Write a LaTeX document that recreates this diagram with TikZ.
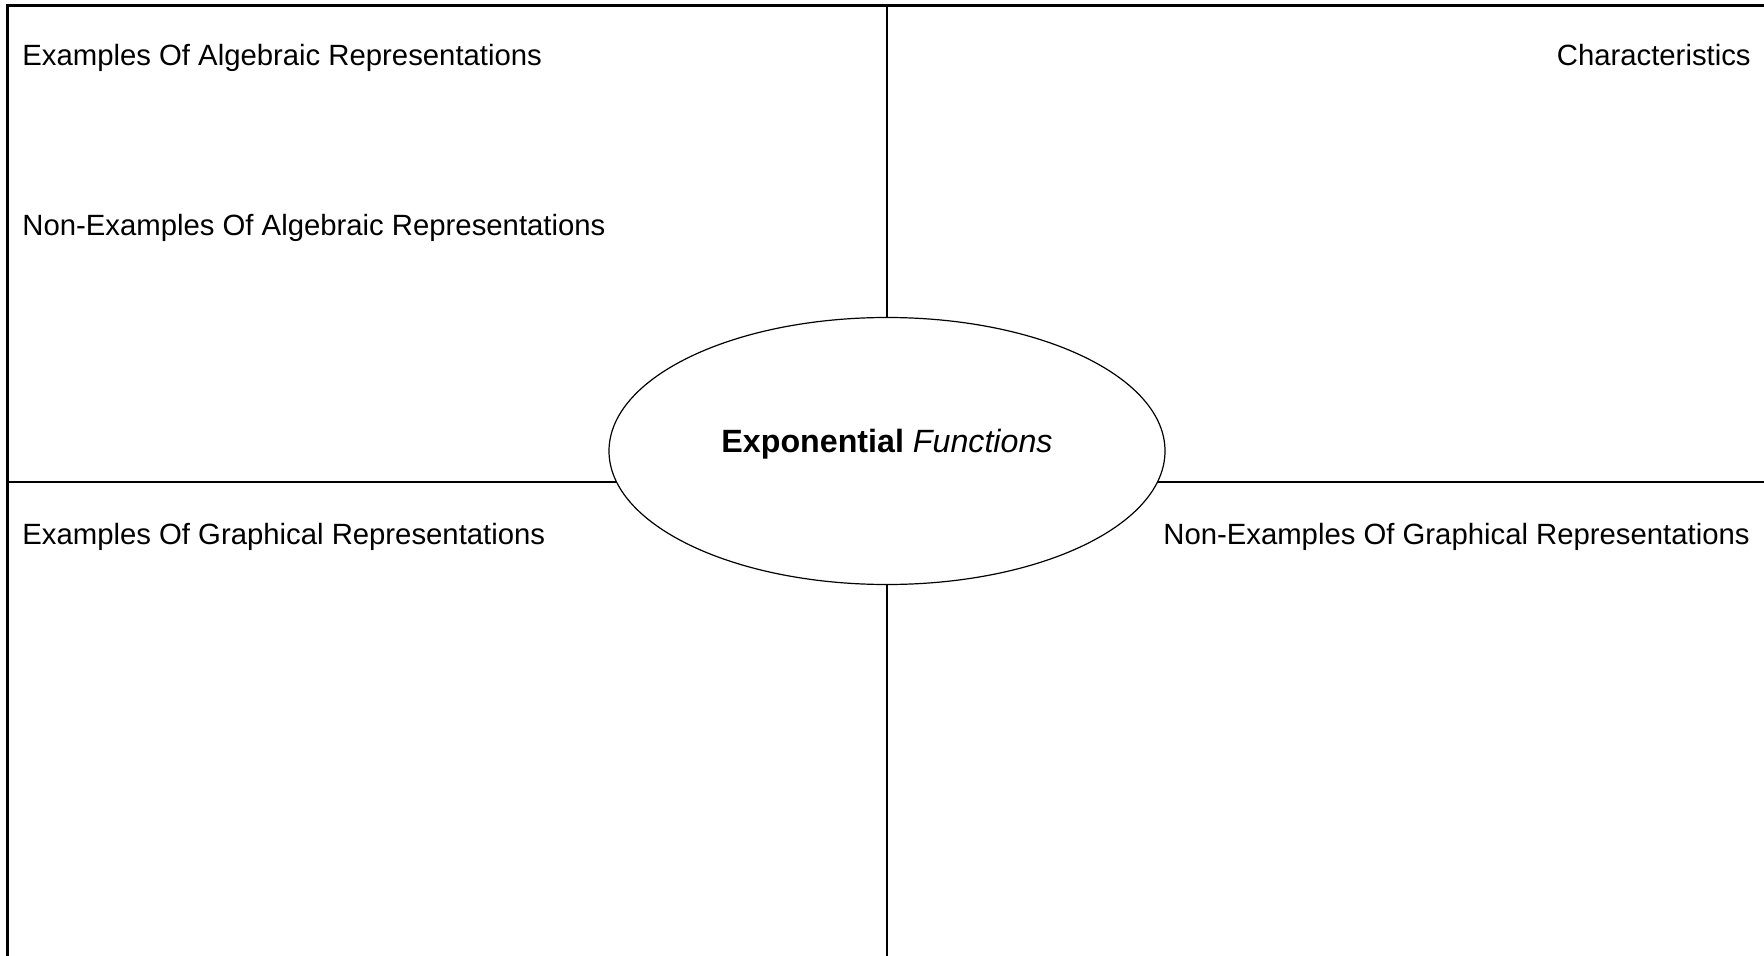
\documentclass[tikz,border=0pt]{standalone}
\usepackage{fontspec}
\setmainfont{Liberation Sans}
\usetikzlibrary{shapes.geometric}
\begin{document}
\begin{tikzpicture}[x=0.5pt,y=-0.5pt,
        frame/.style={line width=1.25pt},
        divider/.style={line width=0.9pt},
        boxlabel/.style={anchor=base west,inner sep=0pt,font=\fontsize{14.65}{17}\selectfont}]
            \useasboundingbox (0,0) rectangle (1764,956);
            \draw[frame] (7.5,956)--(7.5,5.5)--(1764,5.5);

            \draw[divider] (887,5.5)--(887,956);
            \draw[divider] (7.5,482)--(1764,482);

            \node[draw,ellipse,line width=0.6pt,fill=white,inner sep=0pt,minimum width=278pt,minimum height=133.5pt] (core) at (887,451) {};
            \node[anchor=base,inner sep=0pt,font=\fontsize{16.1}{19}\selectfont] (title) at (887,452) {\textbf{Exponential} \textit{Functions}};

            \node[boxlabel] (algex) at (22,66) {Examples Of Algebraic Representations};
            \node[boxlabel] (algnon) at (22,236) {Non-Examples Of Algebraic Representations};
            \node[boxlabel,anchor=base east] (traits) at (1751,66) {Characteristics};
            \node[boxlabel] (graphex) at (22,544) {Examples Of Graphical Representations};
            \node[boxlabel,anchor=base east] (graphnon) at (1750,544) {Non-Examples Of Graphical Representations};
        \end{tikzpicture}
\end{document}
